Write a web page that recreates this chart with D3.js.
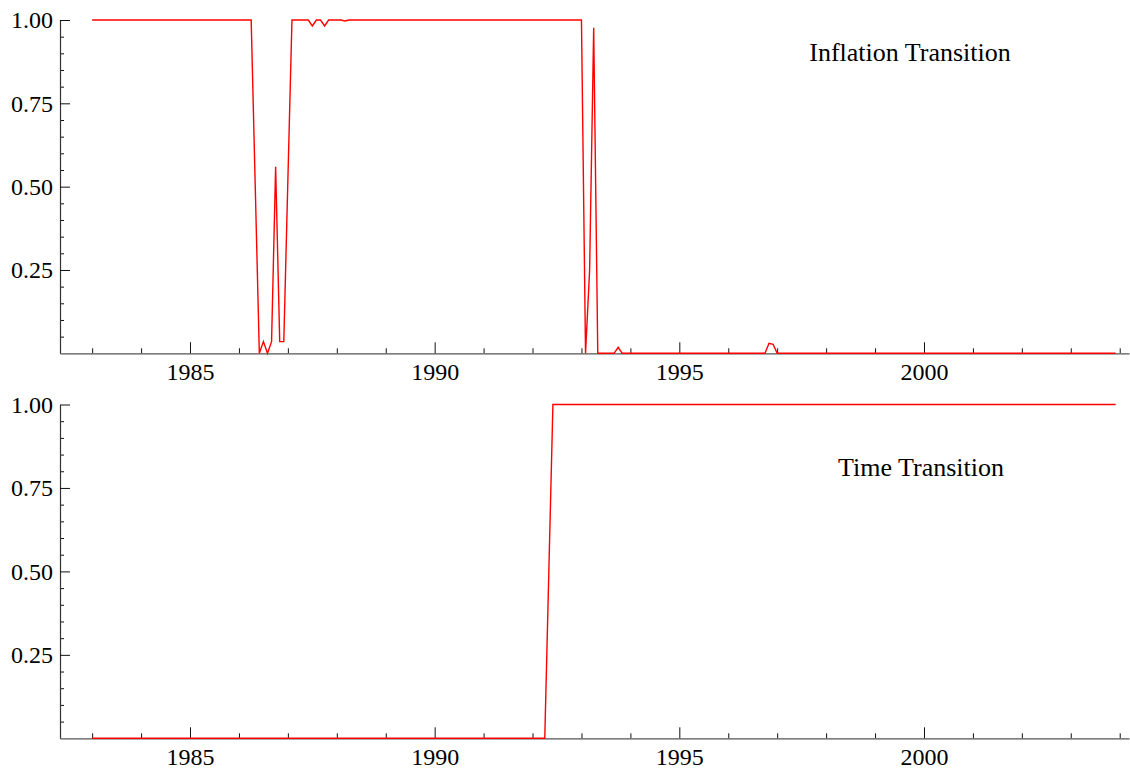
<!DOCTYPE html>
<html>
<head>
<meta charset="utf-8">
<script src="https://cdn.jsdelivr.net/npm/d3@7"></script>
<style>
  html, body { margin: 0; padding: 0; background: #fff; }
  svg { display: block; }
  text { font-family: "Liberation Serif", "Times New Roman", serif; fill: #000; }
</style>
</head>
<body>
<svg id="chart" width="1130" height="772"></svg>
<script>
// Monthly observations, Jan 1983 .. Dec 2003 (one row per year)
const startYear = 1983;
const inflationTransition = [
  1,1,1,1,1,1,1,1,1,1,1,1,                                  // 1983
  1,1,1,1,1,1,1,1,1,1,1,1,                                  // 1984
  1,1,1,1,1,1,1,1,1,1,1,1,                                  // 1985
  1,1,1,1,0.5,0,0.035,0,0.035,0.56,0.035,0.035,             // 1986
  0.52,1,1,1,1,1,0.982,1,1,0.982,1,1,                       // 1987
  1,1,0.997,1,1,1,1,1,1,1,1,1,                              // 1988
  1,1,1,1,1,1,1,1,1,1,1,1,                                  // 1989
  1,1,1,1,1,1,1,1,1,1,1,1,                                  // 1990
  1,1,1,1,1,1,1,1,1,1,1,1,                                  // 1991
  1,1,1,1,1,1,1,1,1,1,1,1,                                  // 1992
  1,0,0.25,0.977,0,0,0,0,0,0.018,0,0,                       // 1993
  0,0,0,0,0,0,0,0,0,0,0,0,                                  // 1994
  0,0,0,0,0,0,0,0,0,0,0,0,                                  // 1995
  0,0,0,0,0,0,0,0,0,0,0.03,0.027,                           // 1996
  0,0,0,0,0,0,0,0,0,0,0,0,                                  // 1997
  0,0,0,0,0,0,0,0,0,0,0,0,                                  // 1998
  0,0,0,0,0,0,0,0,0,0,0,0,                                  // 1999
  0,0,0,0,0,0,0,0,0,0,0,0,                                  // 2000
  0,0,0,0,0,0,0,0,0,0,0,0,                                  // 2001
  0,0,0,0,0,0,0,0,0,0,0,0,                                  // 2002
  0,0,0,0,0,0,0,0,0,0,0,0                                   // 2003
];
const timeTransition = [
  0,0,0,0,0,0,0,0,0,0,0,0,                                  // 1983
  0,0,0,0,0,0,0,0,0,0,0,0,                                  // 1984
  0,0,0,0,0,0,0,0,0,0,0,0,                                  // 1985
  0,0,0,0,0,0,0,0,0,0,0,0,                                  // 1986
  0,0,0,0,0,0,0,0,0,0,0,0,                                  // 1987
  0,0,0,0,0,0,0,0,0,0,0,0,                                  // 1988
  0,0,0,0,0,0,0,0,0,0,0,0,                                  // 1989
  0,0,0,0,0,0,0,0,0,0,0,0,                                  // 1990
  0,0,0,0,0,0,0,0,0,0,0,0,                                  // 1991
  0,0,0,0,0.5,1,1,1,1,1,1,1,                                // 1992
  1,1,1,1,1,1,1,1,1,1,1,1,                                  // 1993
  1,1,1,1,1,1,1,1,1,1,1,1,                                  // 1994
  1,1,1,1,1,1,1,1,1,1,1,1,                                  // 1995
  1,1,1,1,1,1,1,1,1,1,1,1,                                  // 1996
  1,1,1,1,1,1,1,1,1,1,1,1,                                  // 1997
  1,1,1,1,1,1,1,1,1,1,1,1,                                  // 1998
  1,1,1,1,1,1,1,1,1,1,1,1,                                  // 1999
  1,1,1,1,1,1,1,1,1,1,1,1,                                  // 2000
  1,1,1,1,1,1,1,1,1,1,1,1,                                  // 2001
  1,1,1,1,1,1,1,1,1,1,1,1,                                  // 2002
  1,1,1,1,1,1,1,1,1,1,1,1                                   // 2003
];
const panelTitles = ["Inflation Transition", "Time Transition"];
const xMajorTicks = [1985, 1990, 1995, 2000];
const xMinorTicks = [1983,1984,1986,1987,1988,1989,1991,1992,1993,1994,1996,1997,1998,1999,2001,2002,2003,2004];
const yMajorTicks = [0.25, 0.50, 0.75, 1.00];
const yMinorTicks = [0.05,0.10,0.15,0.20,0.30,0.35,0.40,0.45,0.55,0.60,0.65,0.70,0.80,0.85,0.90,0.95];

const svg = d3.select("#chart");
const x = d3.scaleLinear().domain([1982.343, 2004.19]).range([60, 1129]);

const panels = [
  { values: inflationTransition, title: panelTitles[0], top: 20, bottom: 353.3, tx: 910, ty: 61 },
  { values: timeTransition, title: panelTitles[1], top: 404.5, bottom: 738.3, tx: 921, ty: 476 }
];

panels.forEach(p => {
  const y = d3.scaleLinear().domain([0, 1]).range([p.bottom, p.top]);
  const g = svg.append("g");
  const data = p.values.map((v, i) => ({ t: startYear + i / 12, v }));

  // X axis: minor ticks
  g.append("g")
    .attr("transform", `translate(0,${p.bottom})`)
    .call(d3.axisBottom(x).tickValues(xMinorTicks).tickSize(-5).tickSizeOuter(0).tickFormat(""))
    .call(a => a.select(".domain").remove())
    .call(a => a.selectAll("line").attr("stroke", "#111").attr("stroke-width", 1));
  // X axis: major ticks + labels
  g.append("g")
    .attr("transform", `translate(0,${p.bottom})`)
    .call(d3.axisBottom(x).tickValues(xMajorTicks).tickSize(-11).tickSizeOuter(0).tickPadding(10).tickFormat(d3.format("d")))
    .call(a => a.select(".domain").attr("stroke", "#555").attr("stroke-width", 1.2))
    .call(a => a.selectAll("line").attr("stroke", "#111").attr("stroke-width", 1))
    .call(a => a.selectAll("text").attr("font-size", 24).attr("font-family", "Liberation Serif").attr("fill", "#000"));

  // Y axis: minor ticks
  g.append("g")
    .attr("transform", `translate(60,0)`)
    .call(d3.axisLeft(y).tickValues(yMinorTicks).tickSize(-4).tickSizeOuter(0).tickFormat(""))
    .call(a => a.select(".domain").remove())
    .call(a => a.selectAll("line").attr("stroke", "#111").attr("stroke-width", 1));
  // Y axis: major ticks + labels
  g.append("g")
    .attr("transform", `translate(60,0)`)
    .call(d3.axisLeft(y).tickValues(yMajorTicks).tickSize(-10).tickSizeOuter(0).tickPadding(7).tickFormat(d3.format(".2f")))
    .call(a => a.select(".domain").attr("stroke", "#333").attr("stroke-width", 1.2))
    .call(a => a.selectAll("line").attr("stroke", "#111").attr("stroke-width", 1))
    .call(a => a.selectAll("text").attr("font-size", 24).attr("font-family", "Liberation Serif").attr("fill", "#000"));

  // Series line
  g.append("path")
    .datum(data)
    .attr("fill", "none")
    .attr("stroke", "#ff0000")
    .attr("stroke-width", 1.4)
    .attr("stroke-linejoin", "miter")
    .attr("d", d3.line().x(d => x(d.t)).y(d => y(d.v)));

  // Panel label
  g.append("text")
    .attr("x", p.tx)
    .attr("y", p.ty)
    .attr("text-anchor", "middle")
    .attr("font-size", 26)
    .text(p.title);
});
</script>
</body>
</html>
